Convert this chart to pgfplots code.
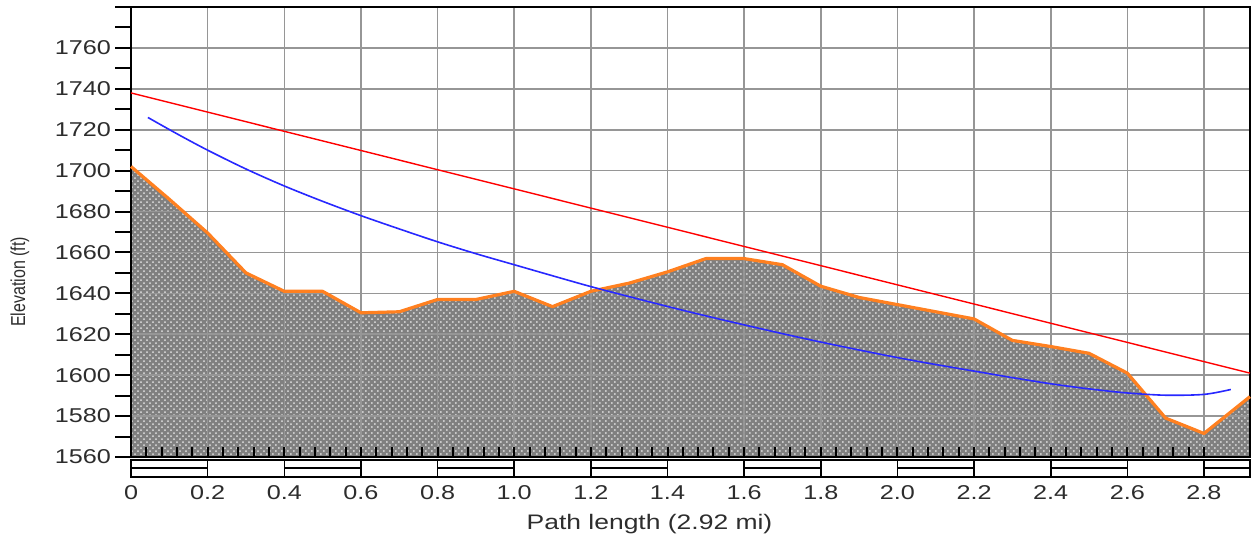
\documentclass[border=0pt]{standalone}
\usepackage{fontspec}
\setmainfont{Liberation Sans}
\usepackage{graphicx}
\usepackage{pgfplots}
\pgfplotsset{compat=1.18}
\usetikzlibrary{patterns}

\definecolor{terrain}{RGB}{128,128,128}
\definecolor{dotc}{RGB}{225,225,225}
\definecolor{ridge}{RGB}{255,128,32}
\definecolor{losline}{RGB}{255,0,0}
\definecolor{fresnel}{RGB}{40,40,255}
\definecolor{gridc}{RGB}{150,150,150}
\definecolor{labc}{RGB}{45,45,45}
\newcommand{\sx}[1]{\scalebox{1.26}[1]{#1}}

\begin{document}
\begin{tikzpicture}
\begin{axis}[
  set layers,
  scale only axis,
  width=559.5pt, height=225pt,
  xmin=0, xmax=2.92, ymin=1560, ymax=1780,
  clip=false,
  axis line style={black, line width=1.4pt},
  xtick={0,0.2,0.4,0.6,0.8,1.0,1.2,1.4,1.6,1.8,2.0,2.2,2.4,2.6,2.8},
  xticklabels={\sx{0},\sx{0.2},\sx{0.4},\sx{0.6},\sx{0.8},\sx{1.0},\sx{1.2},\sx{1.4},\sx{1.6},\sx{1.8},\sx{2.0},\sx{2.2},\sx{2.4},\sx{2.6},\sx{2.8}},
  minor x tick num=4,
  ytick={1560,1580,...,1760},
  yticklabels={\sx{1560},\sx{1580},\sx{1600},\sx{1620},\sx{1640},\sx{1660},\sx{1680},\sx{1700},\sx{1720},\sx{1740},\sx{1760}},
  minor y tick num=1,
  extra y ticks={1770,1780},
  extra y tick labels={},
  extra y tick style={grid=none},
  xtick pos=bottom, ytick pos=left,
  xtick align=inside, ytick align=outside,
  major tick length=8pt, minor tick length=8pt,
  xtick style={/pgfplots/major tick length=5pt,/pgfplots/minor tick length=5pt},
  every tick/.style={black, line width=1pt},
  grid=major,
  major grid style={gridc, line width=0.8pt},
  tick label style={font=\fontsize{10}{12}\selectfont, text=labc},
  xticklabel style={anchor=base, yshift=-21.5pt},
  yticklabel style={anchor=east, xshift=1.5pt},
]

% terrain profile
\addplot[on layer=axis background, draw=none, fill=terrain,
  postaction={pattern=crosshatch dots, pattern color=dotc}] coordinates {
  (0,1702) (0.1,1686) (0.2,1669.5) (0.3,1650) (0.4,1641) (0.5,1641)
  (0.6,1630.5) (0.7,1631) (0.8,1637) (0.9,1637) (1.0,1641) (1.1,1633.5)
  (1.2,1641) (1.3,1645) (1.4,1650.5) (1.5,1657) (1.6,1657) (1.7,1654)
  (1.8,1643.5) (1.9,1638) (2.0,1634.5) (2.1,1631) (2.2,1627.5) (2.3,1617)
  (2.4,1614) (2.5,1610.7) (2.6,1601) (2.7,1579) (2.8,1571.5) (2.92,1589.5)
} \closedcycle;

\addplot[ridge, line width=1.6pt, line join=round] coordinates {
  (0,1702) (0.1,1686) (0.2,1669.5) (0.3,1650) (0.4,1641) (0.5,1641)
  (0.6,1630.5) (0.7,1631) (0.8,1637) (0.9,1637) (1.0,1641) (1.1,1633.5)
  (1.2,1641) (1.3,1645) (1.4,1650.5) (1.5,1657) (1.6,1657) (1.7,1654)
  (1.8,1643.5) (1.9,1638) (2.0,1634.5) (2.1,1631) (2.2,1627.5) (2.3,1617)
  (2.4,1614) (2.5,1610.7) (2.6,1601) (2.7,1579) (2.8,1571.5) (2.92,1589.5)
};

% line of sight
\addplot[losline, line width=0.7pt] coordinates {(0,1738) (2.92,1601)};

% lower curve
\addplot[fresnel, line width=0.8pt, smooth] coordinates {
  (0.044,1726) (0.12,1718) (0.2,1710) (0.3,1700.8) (0.4,1692.5) (0.5,1685)
  (0.6,1678) (0.7,1671.5) (0.8,1665.2) (0.9,1659.4) (1.0,1654) (1.1,1648.6)
  (1.2,1643.3) (1.3,1638.4) (1.4,1633.6) (1.5,1629) (1.6,1624.6) (1.7,1620.3)
  (1.8,1616.2) (1.9,1612.3) (2.0,1608.6) (2.1,1605.2) (2.2,1602) (2.3,1598.8)
  (2.4,1595.8) (2.5,1593.3) (2.6,1591.3) (2.7,1590.2) (2.8,1590.6) (2.87,1593)
};

% scale bar under the x axis
\draw[black, line width=0.8pt]
  ([yshift=-1.5pt]axis cs:0,1560) rectangle ([yshift=-10pt]axis cs:2.92,1560);
\draw[black, line width=0.8pt]
  ([yshift=-1.5pt]axis cs:0.2,1560) -- ([yshift=-10pt]axis cs:0.2,1560)
  ([yshift=-1.5pt]axis cs:0.4,1560) -- ([yshift=-10pt]axis cs:0.4,1560)
  ([yshift=-1.5pt]axis cs:0.6,1560) -- ([yshift=-10pt]axis cs:0.6,1560)
  ([yshift=-1.5pt]axis cs:0.8,1560) -- ([yshift=-10pt]axis cs:0.8,1560)
  ([yshift=-1.5pt]axis cs:1.0,1560) -- ([yshift=-10pt]axis cs:1.0,1560)
  ([yshift=-1.5pt]axis cs:1.2,1560) -- ([yshift=-10pt]axis cs:1.2,1560)
  ([yshift=-1.5pt]axis cs:1.4,1560) -- ([yshift=-10pt]axis cs:1.4,1560)
  ([yshift=-1.5pt]axis cs:1.6,1560) -- ([yshift=-10pt]axis cs:1.6,1560)
  ([yshift=-1.5pt]axis cs:1.8,1560) -- ([yshift=-10pt]axis cs:1.8,1560)
  ([yshift=-1.5pt]axis cs:2.0,1560) -- ([yshift=-10pt]axis cs:2.0,1560)
  ([yshift=-1.5pt]axis cs:2.2,1560) -- ([yshift=-10pt]axis cs:2.2,1560)
  ([yshift=-1.5pt]axis cs:2.4,1560) -- ([yshift=-10pt]axis cs:2.4,1560)
  ([yshift=-1.5pt]axis cs:2.6,1560) -- ([yshift=-10pt]axis cs:2.6,1560)
  ([yshift=-1.5pt]axis cs:2.8,1560) -- ([yshift=-10pt]axis cs:2.8,1560);
\draw[black, line width=0.8pt]
  ([yshift=-5.5pt]axis cs:0,1560) -- ([yshift=-5.5pt]axis cs:0.2,1560)
  ([yshift=-5.5pt]axis cs:0.4,1560) -- ([yshift=-5.5pt]axis cs:0.6,1560)
  ([yshift=-5.5pt]axis cs:0.8,1560) -- ([yshift=-5.5pt]axis cs:1.0,1560)
  ([yshift=-5.5pt]axis cs:1.2,1560) -- ([yshift=-5.5pt]axis cs:1.4,1560)
  ([yshift=-5.5pt]axis cs:1.6,1560) -- ([yshift=-5.5pt]axis cs:1.8,1560)
  ([yshift=-5.5pt]axis cs:2.0,1560) -- ([yshift=-5.5pt]axis cs:2.2,1560)
  ([yshift=-5.5pt]axis cs:2.4,1560) -- ([yshift=-5.5pt]axis cs:2.6,1560)
  ([yshift=-5.5pt]axis cs:2.8,1560) -- ([yshift=-5.5pt]axis cs:2.92,1560);

% axis titles
\node[font=\fontsize{10.5}{12}\selectfont, text=labc, anchor=base]
  at ([yshift=-36.5pt]rel axis cs:0.4634,0) {\sx{Path length (2.92 mi)}};
\node[font=\fontsize{8}{9}\selectfont, text=labc, rotate=90]
  at ([xshift=-55.5pt]rel axis cs:0,0.389) {\scalebox{1}[1.26]{Elevation (ft)}};

% page extent
\path (rel axis cs:-0.1171,-0.1822) rectangle (rel axis cs:1.0063,1.0156);
\end{axis}
\end{tikzpicture}
\end{document}
